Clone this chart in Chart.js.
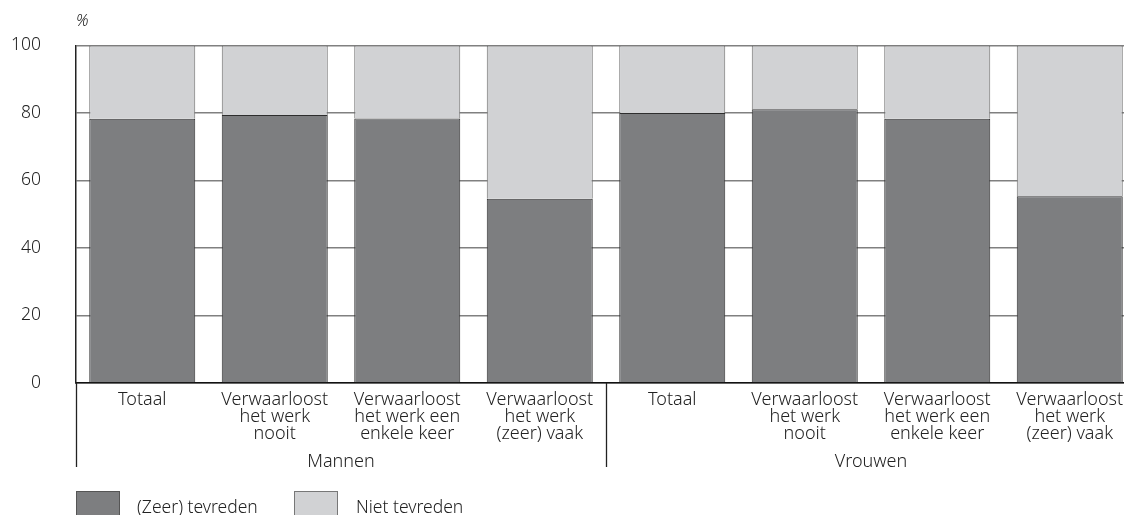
<!DOCTYPE html>
<html>
<head>
<meta charset="utf-8">
<script src="https://cdn.jsdelivr.net/npm/chart.js@4/dist/chart.umd.min.js"></script>
<style>
  html, body { margin: 0; padding: 0; background: #fff; overflow: hidden; width: 1124px; height: 515px; }
  #wrap { position: absolute; left: 0; top: 0; width: 1140px; height: 515px; }
  #pct { position: absolute; left: 76px; top: 9px; font: italic 300 16px "Noto Sans", sans-serif; color: #222; }
  .box { position: absolute; top: 491px; width: 44px; height: 26px; box-sizing: border-box; }
  .lt { position: absolute; top: 494px; font: 300 17.5px "Noto Sans", sans-serif; color: #222; line-height: 24px; white-space: nowrap; }
</style>
</head>
<body>
<div id="wrap"><canvas id="c"></canvas></div>
<div id="pct">%</div>
<div class="box" style="left:76px;background:#7d7e80;border:1px solid #555;"></div>
<div class="lt" style="left:137px;">(Zeer) tevreden</div>
<div class="box" style="left:294px;background:#d1d2d4;border:1px solid #777;"></div>
<div class="lt" style="left:356px;">Niet tevreden</div>
<script>
const categories = [
  "Totaal",
  ["Verwaarloost", "het werk", "nooit"],
  ["Verwaarloost", "het werk een", "enkele keer"],
  ["Verwaarloost", "het werk", "(zeer) vaak"],
  "Totaal",
  ["Verwaarloost", "het werk", "nooit"],
  ["Verwaarloost", "het werk een", "enkele keer"],
  ["Verwaarloost", "het werk", "(zeer) vaak"]
];
const groups = ["Mannen", "Vrouwen"];
const tevreden = [78.3, 79.4, 78.4, 54.6, 80.0, 81.1, 78.3, 55.3];
const nietTevreden = [21.7, 20.6, 21.6, 45.4, 20.0, 18.9, 21.7, 44.7];
const yTicks = [0, 20, 40, 60, 80, 100];

const FONT = '"Noto Sans", sans-serif';

const groupPlugin = {
  id: 'groupPlugin',
  afterDraw(chart) {
    const ctx = chart.ctx;
    const x = chart.scales.x;
    const bottom = chart.chartArea.bottom;
    ctx.save();
    ctx.strokeStyle = '#222';
    ctx.lineWidth = 1.3;
    const seps = [x.left, x.getPixelForValue(3.5)];
    seps.forEach(px => {
      ctx.beginPath();
      ctx.moveTo(Math.round(px) + 0.5, bottom);
      ctx.lineTo(Math.round(px) + 0.5, bottom + 84);
      ctx.stroke();
    });
    ctx.fillStyle = '#222';
    ctx.font = '300 18px ' + FONT;
    ctx.textAlign = 'center';
    ctx.textBaseline = 'middle';
    ctx.fillText(groups[0], x.getPixelForValue(1.5), bottom + 79);
    ctx.fillText(groups[1], x.getPixelForValue(5.5), bottom + 79);
    ctx.restore();
  }
};

new Chart(document.getElementById('c'), {
  type: 'bar',
  data: {
    labels: categories,
    datasets: [
      { label: '(Zeer) tevreden', data: tevreden, backgroundColor: '#7d7e80', borderColor: '#2e2e2e', borderWidth: 1, barPercentage: 0.8, categoryPercentage: 1.0 },
      { label: 'Niet tevreden', data: nietTevreden, backgroundColor: '#d1d2d4', borderColor: '#6a6a6a', borderWidth: 1, barPercentage: 0.8, categoryPercentage: 1.0 }
    ]
  },
  options: {
    responsive: true,
    maintainAspectRatio: false,
    animation: false,
    devicePixelRatio: 1,
    layout: { padding: { top: 43, right: 4, left: 0, bottom: 0 } },
    plugins: { legend: { display: false }, tooltip: { enabled: false } },
    scales: {
      x: {
        stacked: true,
        offset: true,
        grid: { display: false, drawTicks: false },
        border: { display: true, color: '#111', width: 1.5 },
        ticks: {
          autoSkip: false, maxRotation: 0, padding: 9,
          color: '#222',
          font: { family: FONT, size: 18, weight: '300', lineHeight: 0.93 }
        },
        afterFit(scale) { scale.height = 132; }
      },
      y: {
        stacked: true,
        min: 0, max: 100,
        afterBuildTicks(scale) { scale.ticks = yTicks.map(v => ({ value: v })); },
        grid: { color: '#808080', lineWidth: 1.6, drawTicks: false },
        border: { display: true, color: '#222', width: 1.5 },
        ticks: {
          padding: 35, color: '#222',
          font: { family: FONT, size: 17.5, weight: '300' }
        },
        afterFit(scale) { scale.width = 76; }
      }
    }
  },
  plugins: [groupPlugin]
});
</script>
</body>
</html>
